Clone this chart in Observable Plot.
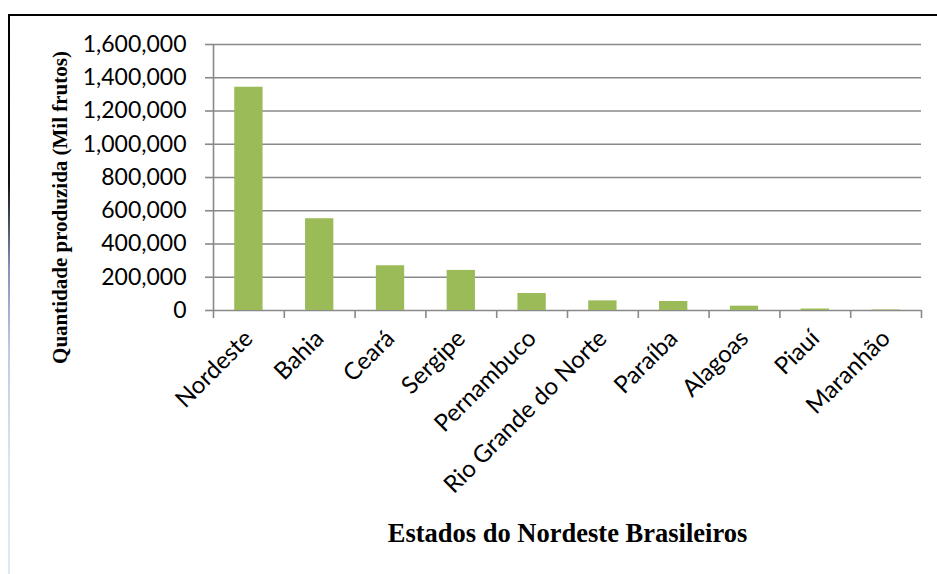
<!DOCTYPE html>
<html>
<head>
<meta charset="utf-8">
<script src="https://cdn.jsdelivr.net/npm/d3@7"></script>
<script src="https://cdn.jsdelivr.net/npm/@observablehq/plot@0.6"></script>
<style>
  html, body { margin: 0; padding: 0; background: #fff; }
  #wrap { position: relative; width: 937px; height: 574px; overflow: hidden; background: #fff; }
  #chart { position: absolute; left: 0; top: 0; }
  .bt { position: absolute; left: 8px; top: 14px; width: 929px; height: 2px; background: #000; }
  .bl { position: absolute; left: 8px; top: 14px; width: 2px; height: 560px;
        background: linear-gradient(to bottom, #000 0%, #111 30%, #7f93b8 45%, #bccbe6 60%, #dbe4f4 80%, #e2e9f6 100%); }
</style>
</head>
<body>
<div id="wrap">
  <div id="chart"></div>
  <div class="bt"></div>
  <div class="bl"></div>
</div>
<script>
const categories = ["Nordeste", "Bahia", "Ceará", "Sergipe", "Pernambuco", "Rio Grande do Norte", "Paraíba", "Alagoas", "Piauí", "Maranhão"];
const values = [1343000, 552000, 269000, 241000, 102000, 58000, 54000, 26000, 9000, 3000];
const yTicks = [0, 200000, 400000, 600000, 800000, 1000000, 1200000, 1400000, 1600000];
const yTitle = "Quantidade produzida (Mil frutos)";
const xTitle = "Estados do Nordeste Brasileiros";

const data = categories.map((c, i) => ({cat: c, val: values[i]}));

const W = 937, H = 574, ML = 213, MR = 16, MT = 44, MB = 264;
const pInner = 0.6, pOuter = 0.3;
const step = (W - ML - MR) / (categories.length - pInner + 2 * pOuter);
const frameH = H - MT - MB;
const gridColor = "#898989";
const serif = "'Liberation Serif', 'DejaVu Serif', serif";

const plot = Plot.plot({
  width: W,
  height: H,
  marginLeft: ML,
  marginRight: MR,
  marginTop: MT,
  marginBottom: MB,
  style: {fontFamily: "Lato, 'Open Sans', sans-serif", fontSize: "23px", color: "#000", background: "transparent", overflow: "visible"},
  x: {type: "band", domain: categories, paddingInner: pInner, paddingOuter: pOuter, round: false, axis: null},
  y: {domain: [0, 1600000], axis: null},
  marks: [
    Plot.ruleY(yTicks, {y: d => d, stroke: gridColor, strokeWidth: 1.6}),
    Plot.axisY({ticks: yTicks, tickSize: 8, tickPadding: 19, tickFormat: d3.format(","), stroke: gridColor, strokeWidth: 1.6, label: null, fontSize: 23}),
    Plot.barY(data, {x: "cat", y: "val", fill: "#9BBB59"}),
    // y axis line
    Plot.ruleX([categories[0]], {x: d => d, dx: -step / 2, stroke: gridColor, strokeWidth: 1.6}),
    // x ticks at band boundaries
    Plot.ruleX(categories, {x: d => d, dx: -step / 2, insetTop: frameH, insetBottom: -8, stroke: gridColor, strokeWidth: 1.6}),
    Plot.ruleX([categories[categories.length - 1]], {x: d => d, dx: step / 2, insetTop: frameH, insetBottom: -8, stroke: gridColor, strokeWidth: 1.6}),
    // category labels
    Plot.text(categories, {x: d => d, text: d => d, frameAnchor: "bottom", rotate: -45, textAnchor: "end", lineAnchor: "middle", dx: 0, dy: 24, fontSize: 24, fill: "#000"}),
    // titles
    Plot.text([yTitle], {text: d => d, frameAnchor: "left", rotate: -90, textAnchor: "middle", lineAnchor: "middle", dx: -153, dy: 30, fontFamily: serif, fontWeight: "bold", fontSize: 21, fill: "#000"}),
    Plot.text([xTitle], {text: d => d, frameAnchor: "bottom", textAnchor: "middle", lineAnchor: "middle", dy: 223, fontFamily: serif, fontWeight: "bold", fontSize: 26.5, fill: "#000"})
  ]
});
document.getElementById("chart").appendChild(plot);
</script>
</body>
</html>
